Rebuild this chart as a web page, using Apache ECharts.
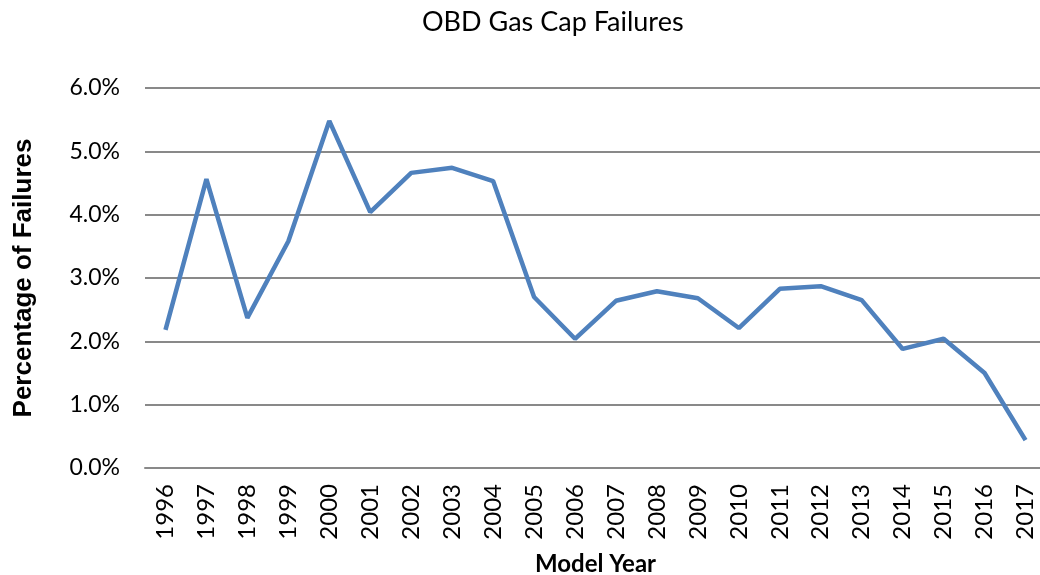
<!DOCTYPE html>
<html><head><meta charset="utf-8">
<script src="https://cdn.jsdelivr.net/npm/echarts@6/dist/echarts.min.js"></script>
<style>html,body{margin:0;padding:0;background:#fff}#c{width:1040px;height:575px}</style>
</head><body><div id="c"></div>
<script>
const years = ['1996','1997','1998','1999','2000','2001','2002','2003','2004','2005','2006','2007','2008','2009','2010','2011','2012','2013','2014','2015','2016','2017'];
const failureRates = [2.18,4.56,2.37,3.58,5.48,4.04,4.66,4.74,4.53,2.70,2.04,2.64,2.79,2.68,2.21,2.83,2.87,2.65,1.88,2.04,1.50,0.44];
const yTicks = { min: 0, max: 6, interval: 1 };

const chart = echarts.init(document.getElementById('c'));
chart.setOption({
  animation: false,
  title: { text: 'OBD Gas Cap Failures', left: 417, top: 4,
    textStyle: { fontFamily: 'Lato', fontWeight: 'normal', fontSize: 27, color: '#000' } },
  grid: { left: 145, right: -6, top: 88, bottom: 107, outerBoundsMode: 'none', containLabel: false },
  xAxis: { type: 'category', data: years, boundaryGap: true,
    name: 'Model Year', nameLocation: 'middle', nameGap: 84,
    nameTextStyle: { fontFamily: 'Lato', fontWeight: 'bold', fontSize: 24, color: '#000' },
    axisLine: { lineStyle: { color: '#898989', width: 2 } },
    axisTick: { show: false },
    axisLabel: { rotate: 90, interval: 0, margin: 16, fontFamily: 'Lato', fontSize: 24, color: '#000' } },
  yAxis: { type: 'value', min: yTicks.min, max: yTicks.max, interval: yTicks.interval,
    name: 'Percentage of Failures', nameLocation: 'middle', nameGap: 108,
    nameTextStyle: { fontFamily: 'Liberation Sans', fontWeight: 'bold', fontSize: 26, color: '#000' },
    axisLine: { show: false }, axisTick: { show: false },
    splitLine: { lineStyle: { color: '#898989', width: 2 } },
    axisLabel: { margin: 25, fontFamily: 'Lato', fontSize: 23, color: '#000',
      formatter: v => v.toFixed(1) + '%' } },
  series: [{ type: 'line', data: failureRates, symbol: 'none',
    lineStyle: { color: '#4f81bd', width: 4.5 } }]
});
</script></body></html>
